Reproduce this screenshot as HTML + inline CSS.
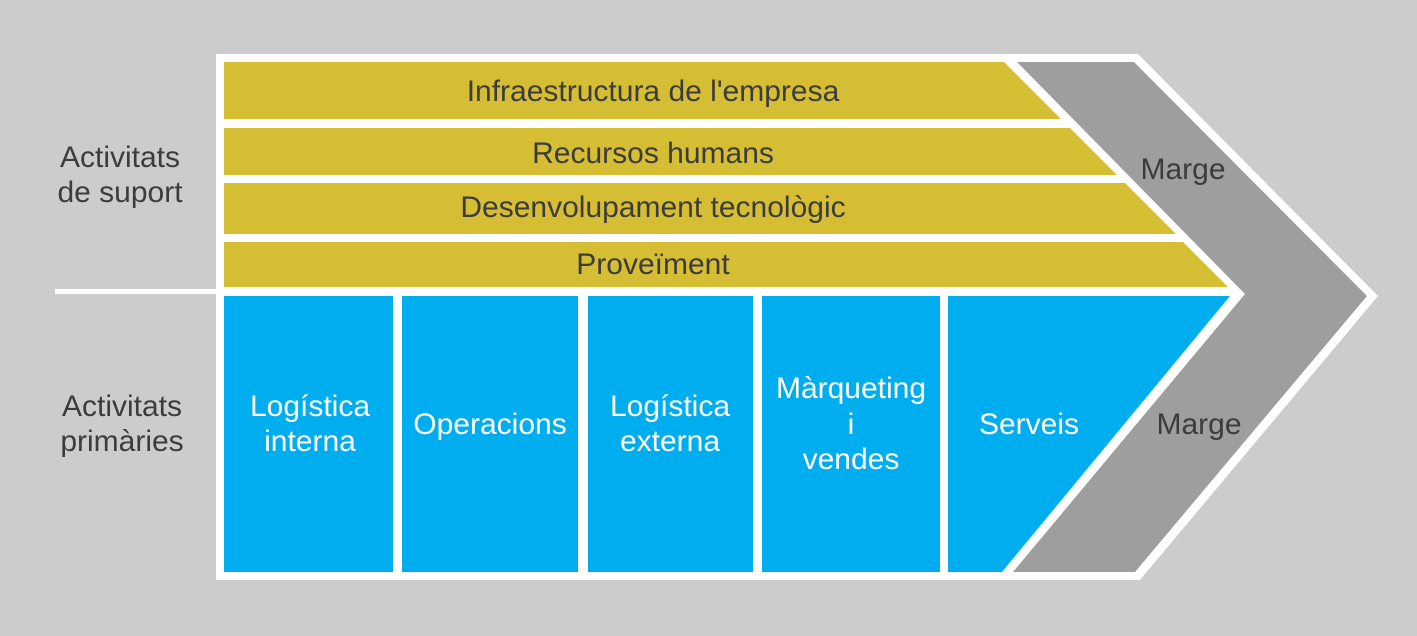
<!DOCTYPE html>
<html><head><meta charset="utf-8"><style>
html,body{margin:0;padding:0;background:#cccccc;}
svg{display:block;font-family:"Liberation Sans",Arial,sans-serif;}
</style></head><body>
<svg width="1417" height="636" viewBox="0 0 1417 636" xmlns="http://www.w3.org/2000/svg">
<rect width="1417" height="636" fill="#cccccc"/>
<polygon points="216,54 1138,54 1378,296 1140,580 216,580" fill="#ffffff"/>
<rect x="55" y="289" width="162" height="5" fill="#ffffff"/>
<g fill="#d5bd34">
<polygon points="224,62 1004,62 1061,119 224,119"/>
<polygon points="224,128 1070,128 1117,175 224,175"/>
<polygon points="224,183 1125,183 1176,234 224,234"/>
<polygon points="224,242 1183,242 1228,287 224,287"/>
</g>
<polygon points="1017,62 1134,62 1367,296 1135,572 1013,572 1245,294" fill="#9e9e9e"/>
<g fill="#00aeef">
<rect x="224" y="296" width="169" height="276"/>
<rect x="402" y="296" width="176" height="276"/>
<rect x="588" y="296" width="165" height="276"/>
<rect x="762" y="296" width="178" height="276"/>
<polygon points="948,296 1230,296 1002,572 948,572"/>
</g>
<g font-size="30" fill="#3c3c3c" text-anchor="middle">
<text x="653" y="101">Infraestructura de l'empresa</text>
<text x="653" y="163">Recursos humans</text>
<text x="653" y="217">Desenvolupament tecnològic</text>
<text x="653" y="274">Proveïment</text>
<text x="120" y="167">Activitats</text>
<text x="120" y="202">de suport</text>
<text x="122" y="416">Activitats</text>
<text x="122" y="451">primàries</text>
<text x="1183" y="179">Marge</text>
<text x="1199" y="434">Marge</text>
</g>
<g font-size="30" fill="#ffffff" text-anchor="middle">
<text x="310" y="416">Logística</text>
<text x="310" y="451">interna</text>
<text x="490" y="434">Operacions</text>
<text x="670" y="416">Logística</text>
<text x="670" y="451">externa</text>
<text x="851" y="398">Màrqueting</text>
<text x="851" y="434">i</text>
<text x="851" y="469">vendes</text>
<text x="1029" y="434">Serveis</text>
</g>
</svg>
</body></html>
